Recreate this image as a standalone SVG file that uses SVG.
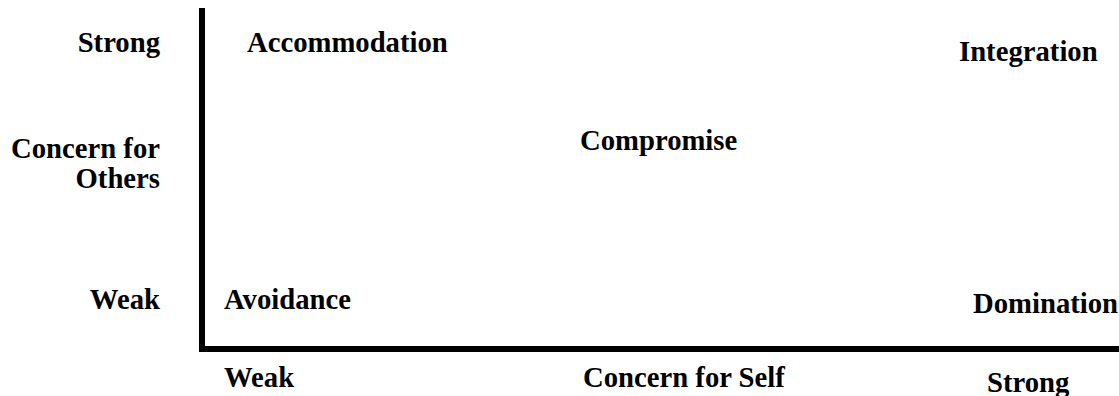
<svg xmlns="http://www.w3.org/2000/svg" width="1119" height="396" viewBox="0 0 1119 396">
<style>
text{font-family:"Liberation Serif","Times New Roman",serif;font-weight:bold;font-size:28.7px;fill:#000}
.r{text-anchor:end}
.axis{fill:none;stroke:#000;stroke-width:6;stroke-linejoin:miter}
</style>
<rect width="1119" height="396" fill="#fff"/>
<g id="connectors">
<path class="axis" d="M202,8 V349 H1119"/>
</g>
<g id="y-axis-labels">
<text class="r" x="160" y="52">Strong</text>
<text class="r" x="160" y="158">Concern for</text>
<text class="r" x="160" y="188">Others</text>
<text class="r" x="160" y="309">Weak</text>
</g>
<g id="x-axis-labels">
<text x="224" y="387">Weak</text>
<text x="583" y="387">Concern for Self</text>
<text x="987" y="392">Strong</text>
</g>
<g id="node-accommodation"><text x="247" y="52">Accommodation</text></g>
<g id="node-integration"><text x="959" y="61">Integration</text></g>
<g id="node-compromise"><text x="580" y="150">Compromise</text></g>
<g id="node-avoidance"><text x="224" y="309">Avoidance</text></g>
<g id="node-domination"><text x="973" y="313">Domination</text></g>
</svg>
